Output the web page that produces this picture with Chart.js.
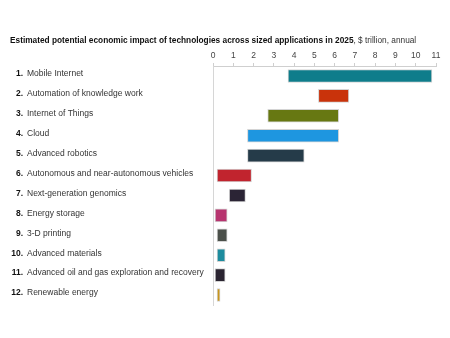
<!DOCTYPE html>
<html>
<head>
<meta charset="utf-8">
<script src="https://cdn.jsdelivr.net/npm/chart.js@4/dist/chart.umd.min.js"></script>
<style>
  html, body { margin: 0; padding: 0; background: #fff; }
  #wrap { width: 450px; height: 338px; }
</style>
</head>
<body>
<div id="wrap"><canvas id="chart" width="450" height="338"></canvas></div>
<script>
// data
const categories = [
  "Mobile Internet",
  "Automation of knowledge work",
  "Internet of Things",
  "Cloud",
  "Advanced robotics",
  "Autonomous and near-autonomous vehicles",
  "Next-generation genomics",
  "Energy storage",
  "3-D printing",
  "Advanced materials",
  "Advanced oil and gas exploration and recovery",
  "Renewable energy"
];
const lowValues  = [3.7, 5.2, 2.7, 1.7, 1.7, 0.2, 0.8, 0.1, 0.2, 0.2, 0.1, 0.2];
const highValues = [10.8, 6.7, 6.2, 6.2, 4.5, 1.9, 1.6, 0.7, 0.7, 0.6, 0.6, 0.35];
const barColors = ["#0f7d8b", "#c9330b", "#677812", "#1e96e0", "#253b49", "#c1242e",
                   "#2b2435", "#b7346f", "#4b504a", "#1d8c9e", "#2a2431", "#c9961b"];
const tickLabels = [0, 1, 2, 3, 4, 5, 6, 7, 8, 9, 10, 11];

const titleBold = "Estimated potential economic impact of technologies across sized applications in 2025";
const titleRest = ", $ trillion, annual";

const FONT = "'Liberation Sans', Arial, Helvetica, sans-serif";

// title and numbered row labels
const labelsPlugin = {
  id: "rowLabels",
  afterDraw(chart) {
    const ctx = chart.ctx;
    const y = chart.scales.y;
    ctx.save();
    ctx.textBaseline = "middle";

    ctx.fillStyle = "#111";
    ctx.font = "bold 8.3px " + FONT;
    ctx.textAlign = "left";
    ctx.fillText(titleBold, 10, 41);
    const w = ctx.measureText(titleBold).width;
    ctx.font = "8.3px " + FONT;
    ctx.fillStyle = "#333";
    ctx.fillText(titleRest, 10 + w, 41);

    categories.forEach((c, i) => {
      const py = y.getPixelForValue(i) - 2;
      ctx.font = "bold 8.5px " + FONT;
      ctx.fillStyle = "#111";
      ctx.textAlign = "right";
      ctx.fillText((i + 1) + ".", 23, py);
      ctx.font = "8.5px " + FONT;
      ctx.fillStyle = "#333";
      ctx.textAlign = "left";
      ctx.fillText(c, 27, py);
    });
    ctx.restore();
  }
};

new Chart(document.getElementById("chart"), {
  type: "bar",
  data: {
    labels: categories,
    datasets: [{
      data: lowValues.map((v, i) => [v, highValues[i]]),
      backgroundColor: barColors,
      borderColor: "#d4d4d4",
      borderWidth: 1,
      borderSkipped: false,
      barThickness: 13
    }]
  },
  options: {
    indexAxis: "y",
    responsive: false,
    animation: false,
    layout: { padding: { top: 47, left: 213, right: 14, bottom: 33 } },
    plugins: {
      legend: { display: false },
      tooltip: { enabled: false }
    },
    scales: {
      x: {
        position: "top",
        min: 0,
        max: 11,
        afterBuildTicks(scale) {
          scale.ticks = tickLabels.map(v => ({ value: v }));
        },
        afterFit(scale) { scale.height = 19; },
        ticks: {
          color: "#444",
          font: { family: FONT, size: 8.5 },
          padding: 2,
          maxRotation: 0
        },
        grid: { display: true, drawOnChartArea: false, tickLength: 3, color: "#cfcfcf" },
        border: { display: true, color: "#cfcfcf" }
      },
      y: {
        ticks: { display: false },
        afterFit(scale) { scale.width = 0; },
        grid: { display: false },
        border: { display: true, color: "#d6d6d6" }
      }
    }
  },
  plugins: [labelsPlugin]
});
</script>
</body>
</html>
